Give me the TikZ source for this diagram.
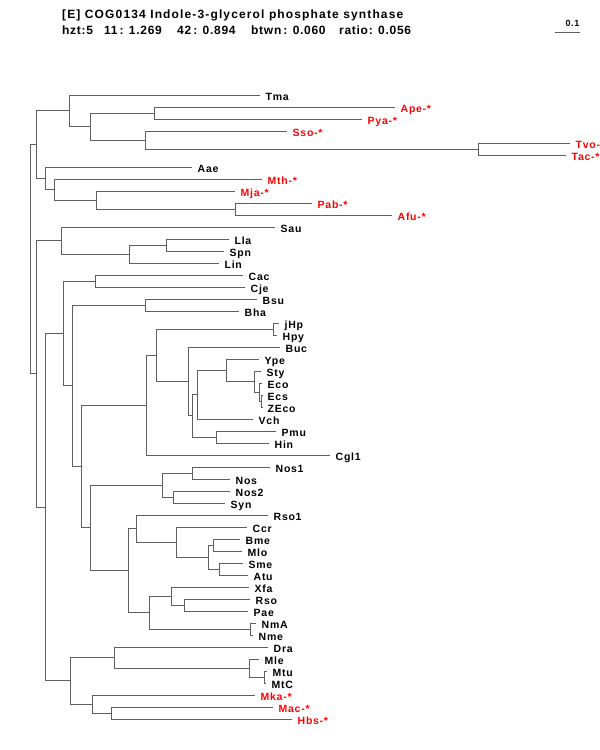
\documentclass[tikz,border=0pt]{standalone}
\usepackage{fontspec}
\setmainfont{Liberation Sans}
\newfontfamily\labfont[LetterSpace=7]{Liberation Sans Bold}
\newfontfamily\ttlfont[LetterSpace=9.5]{Liberation Sans Bold}
\newfontfamily\subfont[LetterSpace=6]{Liberation Sans Bold}
\definecolor{linegray}{RGB}{95,95,95}
\definecolor{archred}{RGB}{255,0,0}
\begin{document}
\begin{tikzpicture}[x=1pt,y=-1pt,
  br/.style={draw=linegray, line width=1pt},
  lf/.style={anchor=base west, inner sep=0pt, xshift=5.5pt, yshift=-5.6pt,
    font=\labfont\fontsize{10.5}{12}\selectfont, text=black},
  arch/.style={lf, text=archred},
  ttl/.style={anchor=base west, inner sep=0pt, font=\ttlfont\fontsize{12}{14}\selectfont},
  sub/.style={anchor=base west, inner sep=0pt, font=\subfont\fontsize{12}{14}\selectfont}]
\useasboundingbox (0,0) rectangle (600,750);
% title
\node[ttl] (title) at (62,18.7) {[E] COG0134 Indole-3-glycerol phosphate synthase};
\node[sub] (s1) at (62,34.7) {hzt:5};
\node[sub] (s2) at (104,34.7) {11\,: 1.269};
\node[sub] (s3) at (177,34.7) {42\,: 0.894};
\node[sub] (s4) at (251,34.7) {btwn\,: 0.060};
\node[sub] (s5) at (339,34.7) {ratio: 0.056};
% scale bar
\coordinate (sbA) at (555,32.3);
\coordinate (sbB) at (580,32.3);
\draw[br] (sbA) -- (sbB);
\node[anchor=base east, inner sep=0pt, font=\labfont\fontsize{9}{10}\selectfont] (sbl) at (579.5,26.5) {0.1};
% leaves
\foreach \n/\x/\i in {Tma/260/0, Ape/395/1, Pya/362/2, Sso/287/3, Tvo/570/4, Tac/566/5,
  Aae/192/6, Mth/262/7, Mja/235/8, Pab/312/9, Afu/392/10, Sau/275/11, Lla/229/12,
  Spn/224/13, Lin/219/14, Cac/243/15, Cje/245/16, Bsu/257/17, Bha/239/18, jHp/279/19,
  Hpy/277/20, Buc/280/21, Ype/259/22, Sty/261/23, Eco/262/24, Ecs/262/25, ZEco/262/26,
  Vch/253/27, Pmu/276/28, Hin/269/29, Cgl1/330/30, Nos1/270/31, Nos/230/32, Nos2/230/33,
  Syn/225/34, Rso1/268/35, Ccr/247/36, Bme/240/37, Mlo/242/38, Sme/243/39, Atu/248/40,
  Xfa/249/41, Rso/250/42, Pae/248/43, NmA/256/44, Nme/253/45, Dra/268/46, Mle/259/47,
  Mtu/267/48, MtC/266/49, Mka/255/50, Mac/273/51, Hbs/292/52}
  \coordinate (\n) at (\x,{95+12*\i});
% internal nodes
\coordinate (R) at (30,259.1);
\coordinate (A) at (36.7,144.5);
\coordinate (B) at (36.7,373.8);
\coordinate (A1) at (69,110.75);
\coordinate (A2) at (45,178.25);
\coordinate (A11) at (90,126.5);
\coordinate (A111) at (154,113);
\coordinate (A112) at (145,140);
\coordinate (A1121) at (478,149);
\coordinate (A21) at (54.3,189.5);
\coordinate (A211) at (96.7,200);
\coordinate (A2111) at (235.7,209);
\coordinate (B1) at (61.7,240.5);
\coordinate (B11) at (129.3,254);
\coordinate (B111) at (166.7,245);
\coordinate (B2) at (45,507.05);
\coordinate (B21) at (63.3,333.35);
\coordinate (B211) at (95.7,281);
\coordinate (B212) at (72.3,385.7);
\coordinate (B2121) at (145,305);
\coordinate (B2122) at (81.7,466.4);
\coordinate (C) at (146.7,405.1);
\coordinate (C1) at (156,355.2);
\coordinate (C11) at (273.3,329);
\coordinate (C12) at (188.3,381.4);
\coordinate (C121) at (192.7,415.8);
\coordinate (C1211) at (197.3,394.6);
\coordinate (C12111) at (226.7,370.25);
\coordinate (C121111) at (254.3,381.5);
\coordinate (C1211111) at (259.3,392);
\coordinate (C12111111) at (261.7,401);
\coordinate (C1212) at (216,437);
\coordinate (D) at (90,527.75);
\coordinate (D1) at (162.3,485);
\coordinate (D11) at (192.7,473);
\coordinate (D12) at (173.3,497);
\coordinate (D2) at (128.3,570.5);
\coordinate (D21) at (136.7,528.5);
\coordinate (D211) at (176,542);
\coordinate (D2111) at (208.3,557);
\coordinate (D21111) at (213.3,545);
\coordinate (D21112) at (219,569);
\coordinate (D22) at (149,612.5);
\coordinate (D221) at (171,596);
\coordinate (D2211) at (184,605);
\coordinate (D222) at (250.7,629);
\coordinate (B22) at (70.7,680.75);
\coordinate (E) at (114.3,657.5);
\coordinate (E1) at (249,668);
\coordinate (E11) at (264.3,677);
\coordinate (F) at (92.7,704);
\coordinate (F1) at (111.7,713);
% branches
\foreach \p/\c in {R/A, R/B, A/A1, A/A2, A1/Tma, A1/A11, A11/A111, A11/A112,
  A111/Ape, A111/Pya, A112/Sso, A112/A1121, A1121/Tvo, A1121/Tac,
  A2/Aae, A2/A21, A21/Mth, A21/A211, A211/Mja, A211/A2111, A2111/Pab, A2111/Afu,
  B/B1, B/B2, B1/Sau, B1/B11, B11/B111, B11/Lin, B111/Lla, B111/Spn,
  B2/B21, B2/B22, B21/B211, B21/B212, B211/Cac, B211/Cje, B212/B2121, B212/B2122,
  B2121/Bsu, B2121/Bha, B2122/C, B2122/D, C/C1, C/Cgl1, C1/C11, C1/C12,
  C11/jHp, C11/Hpy, C12/Buc, C12/C121, C121/C1211, C121/C1212, C1211/C12111, C1211/Vch,
  C12111/Ype, C12111/C121111, C121111/Sty, C121111/C1211111, C1211111/Eco,
  C1211111/C12111111, C12111111/Ecs, C12111111/ZEco, C1212/Pmu, C1212/Hin,
  D/D1, D/D2, D1/D11, D1/D12, D11/Nos1, D11/Nos, D12/Nos2, D12/Syn,
  D2/D21, D2/D22, D21/Rso1, D21/D211, D211/Ccr, D211/D2111, D2111/D21111, D2111/D21112,
  D21111/Bme, D21111/Mlo, D21112/Sme, D21112/Atu, D22/D221, D22/D222,
  D221/Xfa, D221/D2211, D2211/Rso, D2211/Pae, D222/NmA, D222/Nme,
  B22/E, B22/F, E/Dra, E/E1, E1/Mle, E1/E11, E11/Mtu, E11/MtC,
  F/Mka, F/F1, F1/Mac, F1/Hbs}
  \draw[br] (\p) |- (\c);
% labels
\foreach \n/\t/\s in {Tma/Tma/lf, Ape/Ape-*/arch, Pya/Pya-*/arch, Sso/Sso-*/arch,
  Tvo/Tvo-*/arch, Tac/Tac-*/arch, Aae/Aae/lf, Mth/Mth-*/arch, Mja/Mja-*/arch,
  Pab/Pab-*/arch, Afu/Afu-*/arch, Sau/Sau/lf, Lla/Lla/lf, Spn/Spn/lf, Lin/Lin/lf,
  Cac/Cac/lf, Cje/Cje/lf, Bsu/Bsu/lf, Bha/Bha/lf, jHp/jHp/lf, Hpy/Hpy/lf, Buc/Buc/lf,
  Ype/Ype/lf, Sty/Sty/lf, Eco/Eco/lf, Ecs/Ecs/lf, ZEco/ZEco/lf, Vch/Vch/lf, Pmu/Pmu/lf,
  Hin/Hin/lf, Cgl1/Cgl1/lf, Nos1/Nos1/lf, Nos/Nos/lf, Nos2/Nos2/lf, Syn/Syn/lf,
  Rso1/Rso1/lf, Ccr/Ccr/lf, Bme/Bme/lf, Mlo/Mlo/lf, Sme/Sme/lf, Atu/Atu/lf, Xfa/Xfa/lf,
  Rso/Rso/lf, Pae/Pae/lf, NmA/NmA/lf, Nme/Nme/lf, Dra/Dra/lf, Mle/Mle/lf, Mtu/Mtu/lf,
  MtC/MtC/lf, Mka/Mka-*/arch, Mac/Mac-*/arch, Hbs/Hbs-*/arch}
  \node[\s] (l\n) at (\n) {\t};
\end{tikzpicture}
\end{document}
